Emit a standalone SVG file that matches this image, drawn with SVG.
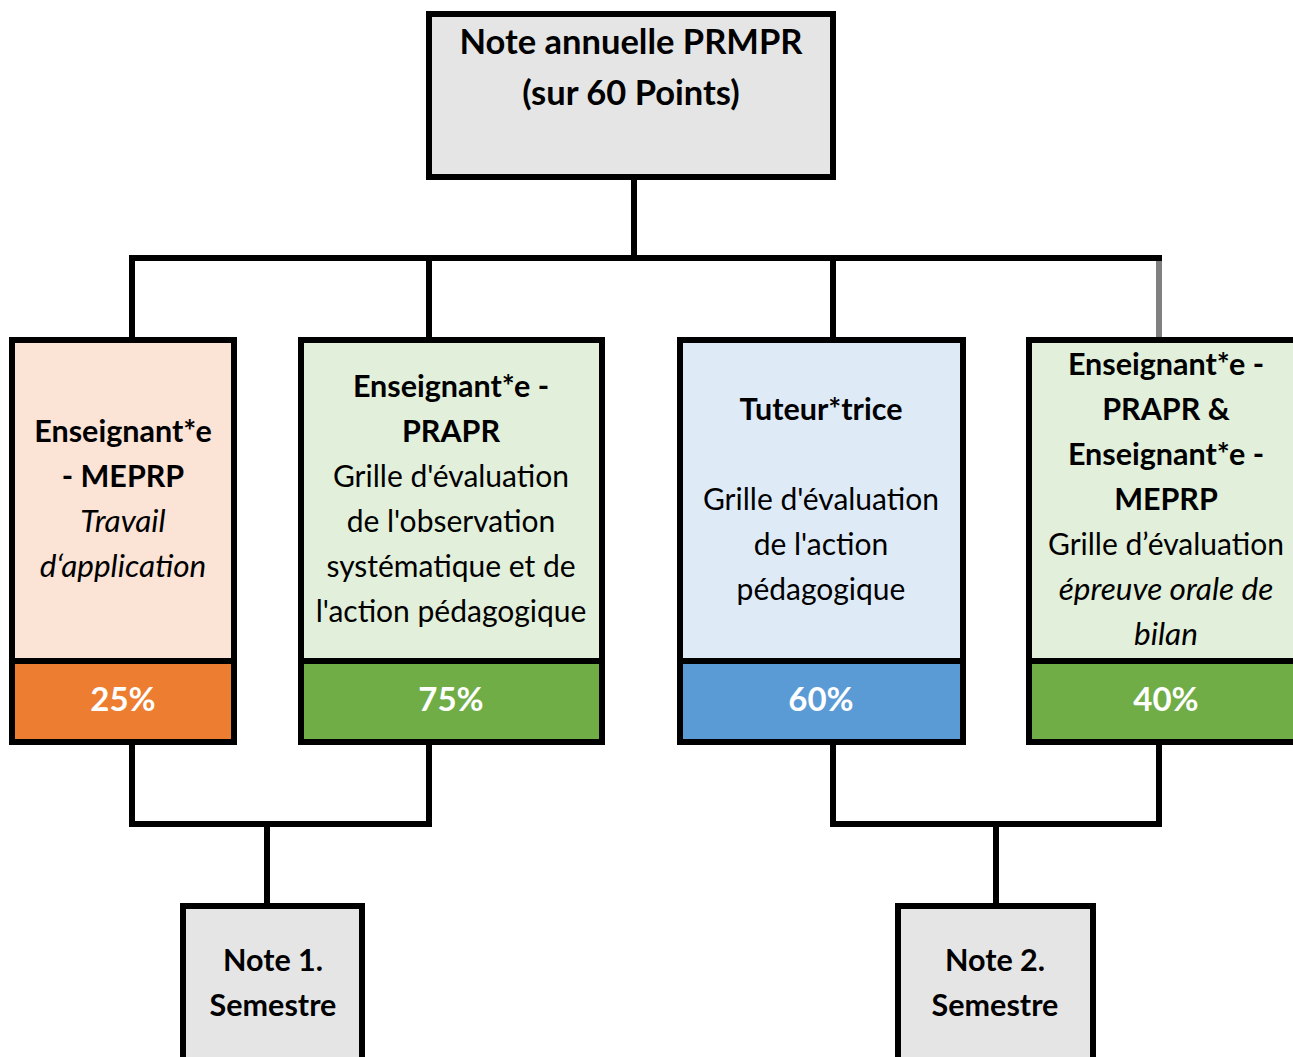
<svg xmlns="http://www.w3.org/2000/svg" width="1293" height="1057" viewBox="0 0 1293 1057">
<style>
.box{stroke:#000;stroke-width:6;}
.grey{fill:#E5E5E5;}
.t{font-family:Lato,"Liberation Sans",sans-serif;font-size:30px;fill:#000;text-anchor:middle;}
.b{font-weight:bold;font-size:30.5px;}
.i{font-style:italic;font-size:31.5px;}
.title{font-size:34.5px;font-weight:bold;}
.pct{font-family:Lato,"Liberation Sans",sans-serif;font-size:33px;font-weight:bold;fill:#fff;text-anchor:middle;}
.con{fill:none;stroke:#000;stroke-width:6;stroke-linejoin:miter;}
</style>
<g id="connectors">
<path class="con" d="M634 177 V258"/>
<path class="con" d="M132 340 V258 H1162"/>
<path class="con" d="M429 258 V340"/>
<path class="con" d="M833 258 V340"/>
<path d="M1159 261 V340" fill="none" stroke="#808080" stroke-width="6"/>
<path class="con" d="M132 742 V824 H429 V742"/>
<path class="con" d="M267 824 V906"/>
<path class="con" d="M833 742 V824 H1159 V742"/>
<path class="con" d="M996 824 V906"/>
</g>
<g id="top">
<rect class="box grey" x="429" y="14" width="404" height="163"/>
<text class="t title" x="631" y="54">Note annuelle PRMPR</text>
<text class="t title" x="631" y="105">(sur 60 Points)</text>
</g>
<g id="box1">
<rect class="box" x="12" y="340" width="222" height="321" fill="#FBE3D6"/>
<rect class="box" x="12" y="661" width="222" height="81" fill="#ED7D31"/>
<text class="t b" x="123" y="442">Enseignant*e</text>
<text class="t b" x="123" y="487">- MEPRP</text>
<text class="t i" x="123" y="532">Travail</text>
<text class="t i" x="123" y="577">d‘application</text>
<text class="pct" x="123" y="711">25%</text>
</g>
<g id="box2">
<rect class="box" x="301" y="340" width="301" height="321" fill="#E2EFDA"/>
<rect class="box" x="301" y="661" width="301" height="81" fill="#70AD47"/>
<text class="t b" x="451" y="397">Enseignant*e -</text>
<text class="t b" x="451" y="442">PRAPR</text>
<text class="t" x="451" y="487">Grille d'évaluation</text>
<text class="t" x="451" y="532">de l'observation</text>
<text class="t" x="451" y="577">systématique et de</text>
<text class="t" x="451" y="622">l'action pédagogique</text>
<text class="pct" x="451" y="711">75%</text>
</g>
<g id="box3">
<rect class="box" x="680" y="340" width="283" height="321" fill="#DEEBF7"/>
<rect class="box" x="680" y="661" width="283" height="81" fill="#5B9BD5"/>
<text class="t b" x="821" y="420">Tuteur*trice</text>
<text class="t" x="821" y="510">Grille d'évaluation</text>
<text class="t" x="821" y="555">de l'action</text>
<text class="t" x="821" y="600">pédagogique</text>
<text class="pct" x="821" y="711">60%</text>
</g>
<g id="box4">
<rect class="box" x="1029" y="340" width="274" height="321" fill="#E2EFDA"/>
<rect class="box" x="1029" y="661" width="274" height="81" fill="#70AD47"/>
<text class="t b" x="1166" y="375">Enseignant*e -</text>
<text class="t b" x="1166" y="420">PRAPR &amp;</text>
<text class="t b" x="1166" y="465">Enseignant*e -</text>
<text class="t b" x="1166" y="510">MEPRP</text>
<text class="t" x="1166" y="555">Grille d’évaluation</text>
<text class="t i" x="1166" y="600">épreuve orale de</text>
<text class="t i" x="1166" y="645">bilan</text>
<text class="pct" x="1166" y="711">40%</text>
</g>
<g id="sem1">
<rect class="box grey" x="183" y="906" width="179" height="200"/>
<text class="t b" x="273" y="971">Note 1.</text>
<text class="t b" x="273" y="1016">Semestre</text>
</g>
<g id="sem2">
<rect class="box grey" x="898" y="906" width="195" height="200"/>
<text class="t b" x="995" y="971">Note 2.</text>
<text class="t b" x="995" y="1016">Semestre</text>
</g>
</svg>
